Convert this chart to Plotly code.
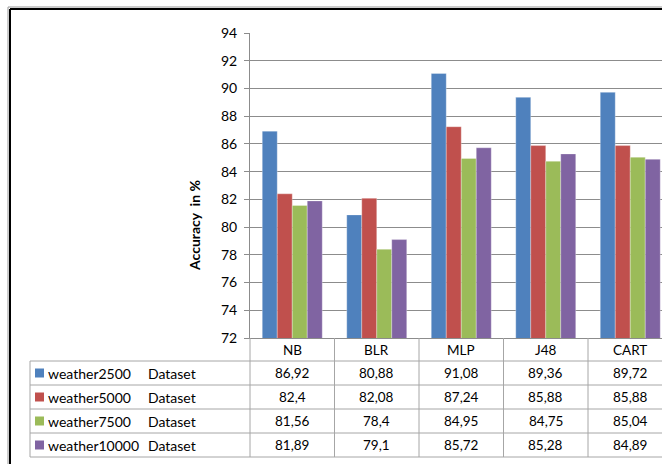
import plotly.graph_objects as go

# Classifier accuracy (%) per weather dataset size
categories = ["NB", "BLR", "MLP", "J48", "CART"]
series_names = ["weather2500", "weather5000", "weather7500", "weather10000"]
series_suffix = "Dataset"
values = {
    "weather2500": [86.92, 80.88, 91.08, 89.36, 89.72],
    "weather5000": [82.4, 82.08, 87.24, 85.88, 85.88],
    "weather7500": [81.56, 78.4, 84.95, 84.75, 85.04],
    "weather10000": [81.89, 79.1, 85.72, 85.28, 84.89],
}
colors = ["#4F81BD", "#C0504D", "#9BBB59", "#8064A2"]
y_ticks = [72, 74, 76, 78, 80, 82, 84, 86, 88, 90, 92, 94]

W, H = 662, 464
FONT = "Lato, 'Open Sans', sans-serif"
GRID = "#8c8c8c"
TABLE = "#a6a6a6"


def px(x):
    return x / W


def py(y):
    return 1 - y / H


def fmt(v):
    return ("%g" % v).replace(".", ",")


plot_left, plot_top, plot_bottom = 250, 33, 338
cat_w = 84.5
x_max = -0.5 + (W - plot_left) / cat_w

fig = go.Figure()
for name, col in zip(series_names, colors):
    fig.add_trace(go.Bar(
        x=categories, y=values[name], name=name,
        marker=dict(color=col, line=dict(width=0.6, color="rgba(255,255,255,0.5)")),
    ))

shapes = []
annotations = []

# outer chart frame (left and top edges)
shapes.append(dict(type="line", xref="paper", yref="paper",
                   x0=px(8), x1=px(8), y0=py(7), y1=0, line=dict(color="#999", width=1)))
shapes.append(dict(type="line", xref="paper", yref="paper",
                   x0=px(8), x1=1, y0=py(7), y1=py(7), line=dict(color="#999", width=1)))
shapes.append(dict(type="line", xref="paper", yref="paper",
                   x0=px(10), x1=px(10), y0=py(9), y1=0, line=dict(color="black", width=2)))
shapes.append(dict(type="line", xref="paper", yref="paper",
                   x0=px(10), x1=1, y0=py(9), y1=py(9), line=dict(color="black", width=2)))

# data table beneath the plot
row_edges = [361, 385, 409, 433, 457]
for ry in row_edges:
    shapes.append(dict(type="line", xref="paper", yref="paper",
                       x0=px(30), x1=1, y0=py(ry), y1=py(ry),
                       line=dict(color=TABLE, width=1)))
shapes.append(dict(type="line", xref="paper", yref="paper",
                   x0=px(30), x1=px(30), y0=py(361), y1=py(457),
                   line=dict(color=TABLE, width=1)))
shapes.append(dict(type="line", xref="paper", yref="paper",
                   x0=px(plot_left), x1=px(plot_left), y0=py(plot_bottom), y1=py(457),
                   line=dict(color=TABLE, width=1)))
for i in range(len(categories)):
    shapes.append(dict(type="line", xref="x", yref="paper",
                       x0=i + 0.5, x1=i + 0.5, y0=py(plot_bottom), y1=py(457),
                       line=dict(color=TABLE, width=1)))

# header row with category names
for c in categories:
    annotations.append(dict(x=c, y=py(349.5), xref="x", yref="paper", text=c,
                            showarrow=False, font=dict(family=FONT, size=13.5, color="black"),
                            xanchor="center", yanchor="middle"))

# one table row per series
for r, (name, col) in enumerate(zip(series_names, colors)):
    cy = (row_edges[r] + row_edges[r + 1]) / 2
    shapes.append(dict(type="rect", xref="paper", yref="paper",
                       x0=px(35), x1=px(44), y0=py(cy - 4.5), y1=py(cy + 4.5),
                       fillcolor=col, line=dict(width=0)))
    annotations.append(dict(x=px(46), y=py(cy), xref="paper", yref="paper", text=name,
                            showarrow=False, font=dict(family=FONT, size=14, color="black"),
                            xanchor="left", yanchor="middle"))
    annotations.append(dict(x=px(146), y=py(cy), xref="paper", yref="paper", text=series_suffix,
                            showarrow=False, font=dict(family=FONT, size=14, color="black"),
                            xanchor="left", yanchor="middle"))
    for c, v in zip(categories, values[name]):
        annotations.append(dict(x=c, y=py(cy), xref="x", yref="paper", text=fmt(v),
                                showarrow=False, font=dict(family=FONT, size=13.5, color="black"),
                                xanchor="center", yanchor="middle"))

# y axis title
annotations.append(dict(x=px(195), y=py(226), xref="paper", yref="paper",
                        text="<b>Accuracy&nbsp;&nbsp;in %</b>", textangle=-90, showarrow=False,
                        font=dict(family=FONT, size=14, color="black"),
                        xanchor="center", yanchor="middle"))

fig.update_layout(
    width=W, height=H,
    margin=dict(l=0, r=0, t=0, b=0, autoexpand=False),
    paper_bgcolor="white", plot_bgcolor="white",
    barmode="group", bargap=0.29, bargroupgap=0,
    showlegend=False,
    font=dict(family=FONT, size=13, color="black"),
    xaxis=dict(domain=[px(plot_left), 1], range=[-0.5, x_max], showticklabels=False,
               showgrid=False, showline=True, linecolor=GRID, linewidth=1, ticks="",
               zeroline=False, fixedrange=True, automargin=False),
    yaxis=dict(domain=[py(plot_bottom), py(plot_top)], range=[72, 94], tickvals=y_ticks,
               showgrid=True, gridcolor=GRID, gridwidth=1, showline=True, linecolor=GRID,
               linewidth=1, ticks="outside", ticklen=5, tickcolor=GRID, automargin=False,
               ticklabelstandoff=4,
               tickfont=dict(family=FONT, size=14, color="black"), zeroline=False),
    shapes=shapes,
    annotations=annotations,
)

fig.write_html("out.html")
